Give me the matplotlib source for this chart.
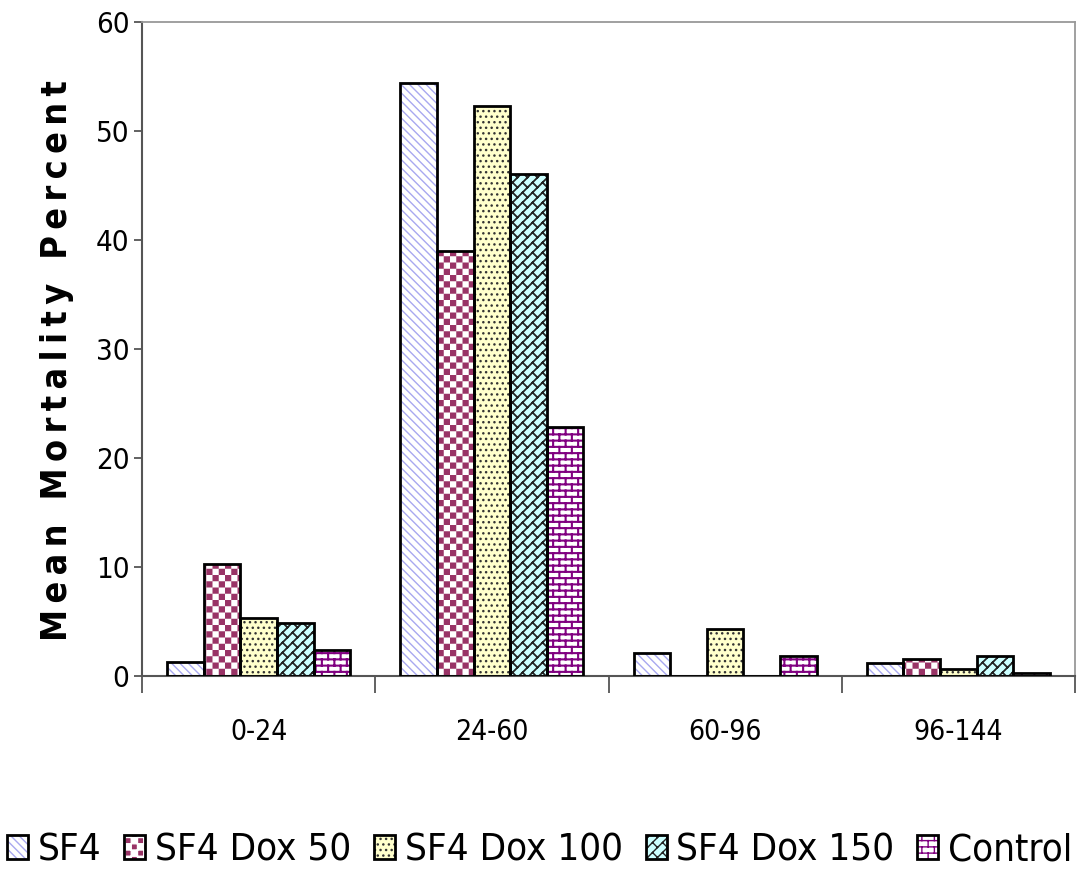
#!/usr/bin/env python3
""" mean mortality percent per time interval, grouped hatched bars """

import numpy as np
import matplotlib
matplotlib.use("Agg")
import matplotlib.pyplot as plt
import matplotlib.hatch as mhatch
from matplotlib.path import Path
from matplotlib.legend_handler import HandlerTuple
from matplotlib import font_manager

intervals = ["0-24", "24-60", "60-96", "96-144"]
series = ["SF4", "SF4 Dox 50", "SF4 Dox 100", "SF4 Dox 150", "Control"]
sf4 = [1.3, 54.4, 2.1, 1.2]
dox50 = [10.3, 39.0, 0.0, 1.6]
dox100 = [5.3, 52.3, 4.3, 0.6]
dox150 = [4.9, 46.1, 0.0, 1.8]
control = [2.4, 22.8, 1.8, 0.3]


class Checker(mhatch.HatchPatternBase):
    """ filled checkerboard, 'O' in the hatch string """

    def __init__(self, hatch, density):
        self.n = hatch.count('O') * 16
        self.num_vertices = 5 * (self.n * self.n // 2)

    def set_vertices_and_codes(self, vertices, codes):
        c = 1.0 / self.n
        k = 0
        for i in range(self.n):
            for j in range(self.n):
                if (i + j) % 2:
                    continue
                x0, y0 = i * c, j * c
                vertices[k:k + 5] = [(x0, y0), (x0 + c, y0), (x0 + c, y0 + c),
                                     (x0, y0 + c), (x0, y0)]
                codes[k:k + 5] = [Path.MOVETO, Path.LINETO, Path.LINETO,
                                  Path.LINETO, Path.CLOSEPOLY]
                k += 5


def brick_segments(n, diag):
    """ line segments of a running-bond brick wall, unit tile """
    segs = []
    if not diag:
        for j in range(-1, n + 1):
            y = (j + 0.5) / n
            segs.append(((-0.1, y), (1.1, y)))
            for i in range(-1, n // 2 + 1):
                xx = (2 * i + j % 2 + 0.5) / n
                segs.append(((xx, y), (xx, y + 1.0 / n)))
    else:
        # long lines along x - y = v, connectors along x + y = u
        def pt(u, v):
            return ((u + v) / 2.0, (u - v) / 2.0)
        for k in range(-n - 1, n + 1):
            v = (k + 0.5) / n
            segs.append((pt(-0.2, v), pt(2.2, v)))
            for l in range(-1, n + 2):
                u = (2 * l + k % 2) / n
                segs.append((pt(u, v), pt(u, v + 1.0 / n)))
    return segs


class Brick(mhatch.HatchPatternBase):
    """ horizontal brick wall, 'o' in the hatch string """
    char, size, diag = 'o', 16, False

    def __init__(self, hatch, density):
        cnt = hatch.count(self.char)
        self.segs = brick_segments(cnt * self.size, self.diag) if cnt else []
        self.num_vertices = 2 * len(self.segs)

    def set_vertices_and_codes(self, vertices, codes):
        for k, (a, b) in enumerate(self.segs):
            vertices[2 * k] = a
            vertices[2 * k + 1] = b
            codes[2 * k] = Path.MOVETO
            codes[2 * k + 1] = Path.LINETO


class DiagBrick(Brick):
    """ diagonal brick wall, '*' in the hatch string """
    char, size, diag = '*', 10, True


swap = {mhatch.LargeCircles: Checker, mhatch.SmallCircles: Brick,
        mhatch.Stars: DiagBrick}
mhatch._hatch_types = [swap.get(t, t) for t in mhatch._hatch_types]

# narrow font if one is around
fonts = font_manager.fontManager.ttflist
names = {f.name for f in fonts}
STRETCH = "normal"
if "Liberation Sans Narrow" in names:
    FONT, SC = "Liberation Sans Narrow", 1.0
elif any(f.name == "DejaVu Sans" and f.stretch == "condensed" for f in fonts):
    FONT, SC, STRETCH = "DejaVu Sans", 0.92, "condensed"
else:
    FONT, SC = "Liberation Sans", 0.9
plt.rcParams['font.family'] = [FONT, 'DejaVu Sans']
plt.rcParams['font.stretch'] = STRETCH

faces = ["white", "#993366", "#ffffcc", "#ccffff", "white"]
hatch_cols = ["#a8a8f0", "white", "#333333", "#222222", "#800080"]
hatches = ["\\\\\\\\", "O", "...", "*", "o"]
hatch_lw = [1.0, 0.0, 1.0, 1.3, 1.5]
values = [sf4, dox50, dox100, dox150, control]

fig = plt.figure(figsize=(10.79, 8.77), dpi=100)
ax = fig.add_axes([0.1316, 0.2292, 0.8647, 0.7457])

x = np.arange(len(intervals))
w = 0.157
handles = []
for i, vals in enumerate(values):
    pos = x + (i - 2) * w
    hb = ax.bar(pos, vals, w, color=faces[i], edgecolor=hatch_cols[i],
                hatch=hatches[i], linewidth=0, zorder=2)
    for p in hb:
        if hasattr(p, "set_hatch_linewidth"):
            p.set_hatch_linewidth(hatch_lw[i])
    ob = ax.bar(pos, vals, w, fill=False, edgecolor="black",
                linewidth=2.0, zorder=3)
    handles.append((hb, ob))

ax.set_xlim(-0.5, len(intervals) - 0.5)
ax.set_ylim(0, 60)
ax.set_yticks(range(0, 61, 10))
ax.set_xticks(x)
ax.set_xticklabels(intervals)
ax.set_xticks(np.arange(-0.5, len(intervals)), minor=True)
ax.tick_params(axis="x", which="major", length=0, pad=30, labelsize=22 * SC)
ax.tick_params(axis="x", which="minor", length=12, width=1.3, color="#555555")
ax.tick_params(axis="y", length=6, width=1.3, color="#555555", pad=3,
               labelsize=23 * SC)

for side in ["top", "right"]:
    ax.spines[side].set_color("#999999")
    ax.spines[side].set_linewidth(1.3)
for side in ["left", "bottom"]:
    ax.spines[side].set_color("#555555")
    ax.spines[side].set_linewidth(1.5)

# letter-spaced axis title
ylab = " \u2009\u2009".join("\u2009".join(word) for word in
                            ["Mean", "Mortality", "Percent"])
ax.set_ylabel(ylab, fontsize=28 * SC, fontweight="bold", va="center")
ax.yaxis.set_label_coords(-0.091, 0.483)

fig.legend(handles, series, loc="center", bbox_to_anchor=(0.5, 0.03),
           ncol=5, frameon=False, fontsize=30 * SC,
           handler_map={tuple: HandlerTuple(ndivide=1, pad=0)},
           handlelength=0.55, handleheight=0.6, handletextpad=0.25,
           columnspacing=0.6)

plt.savefig("out.png", dpi=100)
